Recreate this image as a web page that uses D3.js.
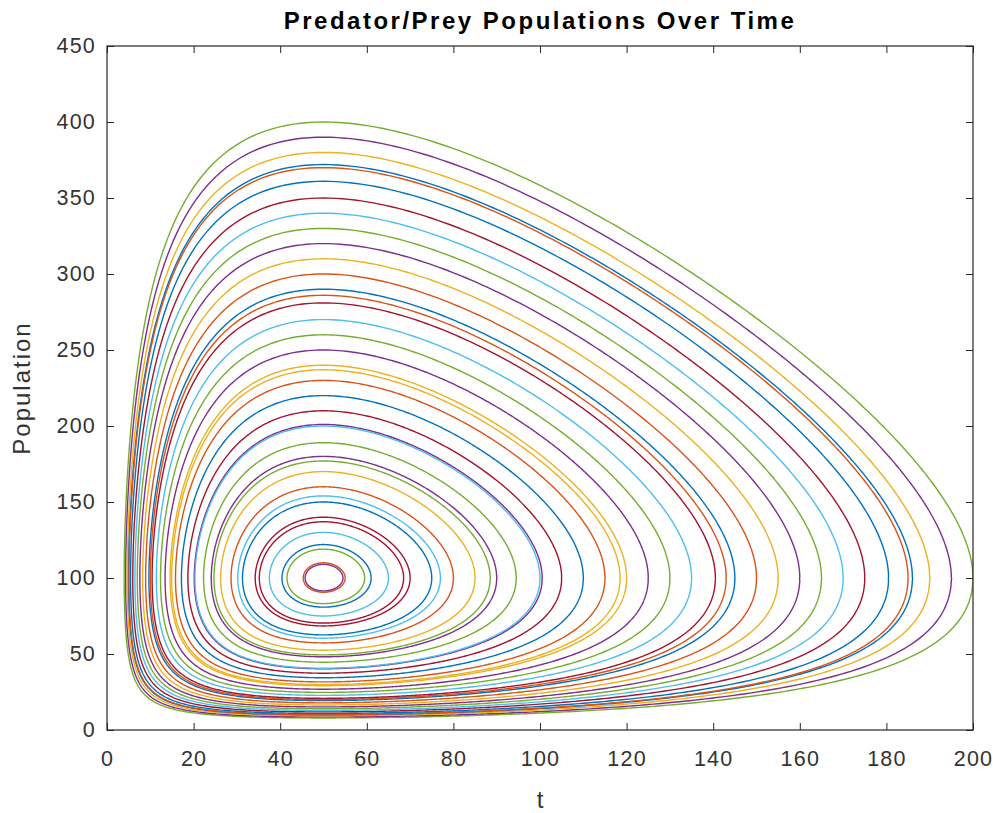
<!DOCTYPE html>
<html>
<head>
<meta charset="utf-8">
<script src="https://cdnjs.cloudflare.com/ajax/libs/d3/7.8.5/d3.min.js"></script>
<style>
  body { margin: 0; background: #fff; }
  svg { display: block; }
</style>
</head>
<body>
<div id="chart"></div>
<script>
// Closed orbits of the predator/prey system, one per trace.
// Each orbit is identified by its peak population, read at t = 50 where every orbit tops out.
const orbitTop = [400, 390, 380, 372, 370, 361, 350, 340, 330, 320, 310, 300, 290, 286, 281,
  270, 260, 250, 240, 237, 230, 220, 210, 201, 200, 189, 180, 177, 170, 160, 154, 150,
  140, 137, 130, 122, 119, 110, 109];
const orbitColor = ['green', 'purple', 'yellow', 'blue', 'orange', 'blue', 'red', 'cyan', 'green',
  'purple', 'yellow', 'orange', 'blue', 'orange', 'red', 'cyan', 'green', 'purple', 'yellow',
  'yellow', 'orange', 'blue', 'red', 'purple', 'cyan', 'green', 'purple', 'green', 'yellow',
  'orange', 'cyan', 'blue', 'red', 'red', 'cyan', 'blue', 'green', 'orange', 'purple'];

// centre of all orbits and the weight of the t-term
const centreX = 50, centreY = 100, weightX = 2;

const xTicks = d3.range(0, 201, 20);
const yTicks = d3.range(0, 451, 50);

const palette = {
  blue: '#0072BD', orange: '#D95319', yellow: '#EDB120', purple: '#7E2F8E',
  green: '#77AC30', cyan: '#4DBEEE', red: '#A2142F'
};

const W = 993, H = 813;
const plotL = 107, plotR = 973, plotT = 46, plotB = 730;

const svg = d3.select('#chart').append('svg')
  .attr('width', W).attr('height', H)
  .attr('font-family', '"Liberation Sans", Arial, Helvetica, sans-serif');

const x = d3.scaleLinear().domain([0, 200]).range([plotL, plotR]);
const y = d3.scaleLinear().domain([0, 450]).range([plotB, plotT]);

svg.append('defs').append('clipPath').attr('id', 'plot-clip')
  .append('rect')
  .attr('x', plotL).attr('y', plotT)
  .attr('width', plotR - plotL).attr('height', plotB - plotT);

// conserved quantity: every trace is a level set of it
function energy(px, py) {
  return weightX * (px - centreX * Math.log(px)) + (py - centreY * Math.log(py));
}

function orbitPoints(peak) {
  const level = energy(centreX, peak);
  const pts = [];
  const n = 720;
  for (let i = 0; i <= n; i++) {
    const a = (i / n) * 2 * Math.PI;
    const dx = Math.cos(a) * 200, dy = Math.sin(a) * 300;
    let tMax = Infinity;
    if (dx < 0) tMax = Math.min(tMax, -centreX / dx);
    if (dy < 0) tMax = Math.min(tMax, -centreY / dy);
    if (!isFinite(tMax)) tMax = 5;
    let lo = 0, hi = tMax * 0.9999999;
    for (let k = 0; k < 60; k++) {
      const mid = (lo + hi) / 2;
      if (energy(centreX + mid * dx, centreY + mid * dy) < level) lo = mid; else hi = mid;
    }
    const t = (lo + hi) / 2;
    pts.push([centreX + t * dx, centreY + t * dy]);
  }
  return pts;
}

const line = d3.line()
  .x(d => x(d[0]))
  .y(d => y(d[1]));

const orbits = orbitTop.map((peak, i) => ({ peak, color: palette[orbitColor[i]] }));

svg.append('g')
  .attr('clip-path', 'url(#plot-clip)')
  .selectAll('path')
  .data(orbits)
  .join('path')
  .attr('d', d => line(orbitPoints(d.peak)))
  .attr('fill', 'none')
  .attr('stroke', d => d.color)
  .attr('stroke-width', 1.4);

// axes, ticks pointing inward on all four sides
const axisColor = '#262626';
const tickLen = 7;

function styleAxis(g) {
  g.select('.domain').remove();
  g.selectAll('line').attr('stroke', axisColor);
  g.selectAll('text')
    .attr('fill', '#333')
    .attr('font-size', 21.5)
    .attr('letter-spacing', 1.2);
}

svg.append('g')
  .attr('transform', `translate(0,${plotB})`)
  .call(d3.axisBottom(x).tickValues(xTicks).tickSize(-tickLen).tickPadding(21))
  .call(styleAxis);

svg.append('g')
  .attr('transform', `translate(0,${plotT})`)
  .call(d3.axisTop(x).tickValues(xTicks).tickSize(-tickLen).tickFormat(''))
  .call(styleAxis);

svg.append('g')
  .attr('transform', `translate(${plotL},0)`)
  .call(d3.axisLeft(y).tickValues(yTicks).tickSize(-tickLen).tickPadding(11))
  .call(styleAxis);

svg.append('g')
  .attr('transform', `translate(${plotR},0)`)
  .call(d3.axisRight(y).tickValues(yTicks).tickSize(-tickLen).tickFormat(''))
  .call(styleAxis);

svg.append('rect')
  .attr('x', plotL).attr('y', plotT)
  .attr('width', plotR - plotL).attr('height', plotB - plotT)
  .attr('fill', 'none')
  .attr('stroke', axisColor)
  .attr('stroke-width', 1.2);

// labels
svg.append('text')
  .attr('x', (plotL + plotR) / 2).attr('y', 29)
  .attr('text-anchor', 'middle')
  .attr('font-size', 24)
  .attr('font-weight', 'bold')
  .attr('letter-spacing', 2.5)
  .attr('fill', '#000')
  .text('Predator/Prey Populations Over Time');

svg.append('text')
  .attr('x', (plotL + plotR) / 2).attr('y', 808)
  .attr('text-anchor', 'middle')
  .attr('font-size', 24)
  .attr('fill', '#333')
  .text('t');

svg.append('text')
  .attr('transform', `translate(30,${(plotT + plotB) / 2}) rotate(-90)`)
  .attr('text-anchor', 'middle')
  .attr('font-size', 24)
  .attr('letter-spacing', 2)
  .attr('fill', '#333')
  .text('Population');
</script>
</body>
</html>
